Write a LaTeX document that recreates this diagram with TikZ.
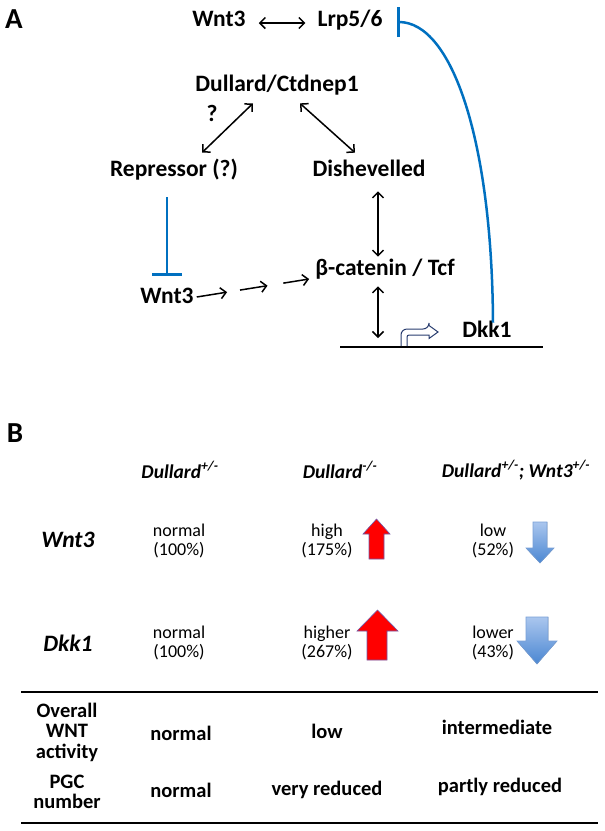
\documentclass[tikz,border=0pt]{standalone}
\usepackage{fontspec}
\setmainfont{Carlito}
\usetikzlibrary{arrows.meta,calc}

\definecolor{inhblue}{RGB}{0,112,192}
\definecolor{promoline}{RGB}{40,60,110}
\definecolor{upred}{RGB}{255,0,0}
\definecolor{upedge}{RGB}{110,90,170}
\definecolor{downtop}{RGB}{170,198,238}
\definecolor{downbot}{RGB}{75,135,210}
\definecolor{downedge}{RGB}{120,160,215}

\tikzset{
  panel/.style={font=\bfseries\fontsize{29}{32}\selectfont, inner sep=0pt},
  gene/.style={font=\bfseries\fontsize{23.5}{26}\selectfont, inner sep=0pt, text height=0.63em, text depth=0pt},
  geno/.style={font=\bfseries\itshape\fontsize{19.5}{22}\selectfont, inner sep=0pt},
  rowlab/.style={font=\bfseries\itshape\fontsize{23.5}{26}\selectfont, inner sep=0pt},
  val/.style={font=\fontsize{18}{19}\selectfont, align=center, inner sep=0pt},
  tab/.style={font=\bfseries\fontsize{20.5}{20.5}\selectfont, align=center, inner sep=0pt},
  link/.style={{Straight Barb[length=5.5pt,width=11pt]}-{Straight Barb[length=5.5pt,width=11pt]}, line width=1.5pt},
  push/.style={-{Straight Barb[length=5.5pt,width=11pt]}, line width=1.5pt},
  block/.style={inhblue, line width=2.5pt, -{Bar[width=30pt]}},
  promo/.style={promoline, line width=1pt},
  uparr/.style={fill=upred, draw=upedge, line width=0.6pt},
  downarr/.style={top color=downtop, bottom color=downbot, draw=downedge, line width=0.6pt},
  rule/.style={line width=2.5pt}
}

\begin{document}
\begin{tikzpicture}[x=1pt,y=-1pt]
\useasboundingbox (0,0) rectangle (605,831);

% A: pathway
\node[panel] (pA) at (14,19) {A};
\node[gene] (wntA) at (219,23) {Wnt3};
\node[gene] (lrp) at (350,23) {Lrp5/6};
\draw[link, shorten <=13pt, shorten >=12pt] (wntA) -- (lrp);

\node[gene] (dull) at (277,88) {Dullard/Ctdnep1};
\node[gene] (qm) at (212,118) {?};
\node[gene] (rep) at (174,173) {Repressor (?)};
\node[gene] (dish) at (369,173) {Dishevelled};
\draw[link] ([xshift=-24pt,yshift=-12pt]dull.south) -- ([xshift=28pt,yshift=17pt]rep.north);
\draw[link] ([xshift=23pt,yshift=-12pt]dull.south) -- ([xshift=-14pt,yshift=17pt]dish.north);

\node[gene] (beta) at (385,272) {β-catenin / Tcf};
\node[gene] (wntB) at (167,300) {Wnt3};
\node[gene] (dkk) at (487,334) {Dkk1};
\draw[link, shorten <=15pt, shorten >=12pt] ([xshift=9pt]dish.south) -- ([xshift=-7pt]beta.north);
\draw[block, shorten <=21pt, shorten >=21pt] (wntB.north |- rep.south) -- (wntB.north);
\coordinate (w0) at ([xshift=3pt,yshift=3pt]wntB.east);
\coordinate (w1) at ([xshift=-6pt,yshift=-7pt]beta.west);
\foreach \a/\b in {0/0.27, 0.385/0.63, 0.77/1}
  \draw[push] ($(w0)!\a!(w1)$) -- ($(w0)!\b!(w1)$);

% gene on the DNA
\coordinate (dnaL) at (340,347);
\coordinate (dnaR) at (543,347);
\draw[line width=2pt] (dnaL) -- (dnaR);
\draw[link, shorten <=11pt, shorten >=9pt] ([xshift=-7pt]beta.south) -- ([xshift=-7pt]beta.south |- dnaL);
\draw[promo] (401,346) [rounded corners=6pt] -- (401,329) -- (429,329) [sharp corners] -- (429,325.5) -- (438,332) -- (429,338.5) -- (429,335) [rounded corners=2pt] -- (407,335) -- (407,346);
\draw[block] ([xshift=6pt,yshift=8pt]dkk.north) .. controls (492,140) and (452,22) .. (397,22);

% B: table
\node[panel] (pB) at (15,433) {B};
\node[geno] (g1) at (180,470) {Dullard\textsuperscript{+/-}};
\node[geno] (g2) at (340,470) {Dullard\textsuperscript{-/-}};
\node[geno] (g3) at (516,470) {Dullard\textsuperscript{+/-}; Wnt3\textsuperscript{+/-}};

\node[rowlab] (r1) at (68,540) {Wnt3};
\node[val] (v11) at (179,541) {normal\\(100\%)};
\node[val] (v12) at (327,541) {high\\(175\%)};
\node[val] (v13) at (493,541) {low\\(52\%)};
\filldraw[uparr] (363,534) -- (376.5,519) -- (390,534) -- (384,534) -- (384,559) -- (369,559) -- (369,534) -- cycle;
\filldraw[downarr] (533,522) -- (547,522) -- (547,548) -- (554,548) -- (540,563) -- (526,548) -- (533,548) -- cycle;

\node[rowlab] (r2) at (68,643) {Dkk1};
\node[val] (v21) at (179,643) {normal\\(100\%)};
\node[val] (v22) at (327,643) {higher\\(267\%)};
\node[val] (v23) at (493,643) {lower\\(43\%)};
\filldraw[uparr] (357,631) -- (377.5,610) -- (398,631) -- (387,631) -- (387,660) -- (367,660) -- (367,631) -- cycle;
\filldraw[downarr] (526,617) -- (548,617) -- (548,641) -- (557,641) -- (537,664) -- (517,641) -- (526,641) -- cycle;

\coordinate (top1) at (21,692);
\coordinate (top2) at (598,692);
\coordinate (bot1) at (21,823);
\coordinate (bot2) at (598,823);
\draw[rule] (top1) -- (top2);
\draw[rule] (bot1) -- (bot2);

\node[tab] (o0) at (67,732) {Overall\\WNT\\activity};
\node[tab] (o1) at (181,733) {normal};
\node[tab] (o2) at (327,731) {low};
\node[tab] (o3) at (497,727) {intermediate};
\node[tab] (p0) at (67,792) {PGC\\number};
\node[tab] (p1) at (181,790) {normal};
\node[tab] (p2) at (327,790) {very reduced};
\node[tab] (p3) at (500,787) {partly reduced};
\end{tikzpicture}
\end{document}
